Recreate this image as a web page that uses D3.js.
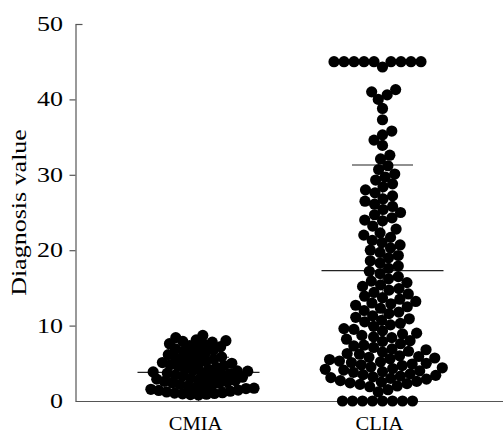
<!DOCTYPE html>
<html><head><meta charset="utf-8">
<script src="https://cdn.jsdelivr.net/npm/d3@7"></script>
<style>body{margin:0;background:#fff}</style>
</head><body>
<svg id="c" width="503" height="433"></svg>
<script>
const categories = ["CMIA", "CLIA"];
const cmiaValues = [
  0.8, 0.85, 0.9, 0.95, 1.0, 1.05, 1.1, 1.2, 1.3, 1.4, 1.45, 1.55, 1.65, 1.7, 1.8, 1.9, 2.0,
  2.1, 2.2, 2.35, 2.45,
  2.55, 2.6, 2.7, 2.8, 2.9, 2.95, 3.05, 3.15, 3.25, 3.35, 3.45, 3.5, 3.6, 3.7, 3.8, 3.85, 3.95, 4.0,
  4.1, 4.2, 4.35, 4.45, 4.6, 4.7, 4.8, 4.9, 5.0, 5.1, 5.2, 5.3, 5.4,
  5.55, 5.7, 5.85, 6.0, 6.15, 6.3, 6.45, 6.6, 6.75, 6.9, 7.05, 7.2, 7.35,
  7.5, 7.6, 7.8, 7.9, 8.0, 8.1, 8.4, 8.7
];
const cliaValues = [
  0, 0, 0, 0, 0, 0, 0, 0, 1.2, 1.5,
  1.9, 2.0, 2.2, 2.3, 2.4, 2.5, 2.6, 2.7, 2.9, 3.0, 3.1, 3.2, 3.3, 3.4, 3.5, 3.6, 3.8, 3.9,
  4.0, 4.1, 4.2, 4.3, 4.4, 4.5, 4.7, 4.8, 4.9, 5.0, 5.1, 5.2, 5.3, 5.5, 5.6, 5.7, 5.8, 5.9,
  6.0, 6.2, 6.3, 6.5, 6.6, 6.8, 6.9,
  7.1, 7.3, 7.4, 7.6, 7.9, 8.0, 8.2, 8.4, 8.5, 8.7, 8.9, 9.0, 9.3, 9.5, 9.6, 9.9, 10.1,
  10.3, 10.5, 10.7, 10.9,
  11.1, 11.3, 11.6, 11.8, 12.0, 12.3, 12.5, 12.7, 12.9, 13.0, 13.2, 13.5, 13.7, 13.9, 14.2,
  14.4, 14.7, 14.9, 15.2, 15.4, 15.7, 15.9,
  16.2, 16.5, 16.9, 17.2, 17.6, 17.9, 18.3, 18.6, 19.0, 19.3, 19.7, 20.0, 20.3, 20.7, 21.0,
  21.3, 21.7, 22.0, 22.3,
  22.8, 23.2, 23.9, 24.0, 24.3, 24.7, 25.0, 25.4, 25.8, 26.1, 26.5, 26.8, 27.2, 27.6, 28.0,
  28.4, 28.8, 29.3, 29.7, 30.1,
  30.7, 31.2, 32.1, 32.6, 33.9, 34.6, 35.3, 35.8, 37.3, 38.8, 40.0, 40.6, 41.0, 41.3,
  44.3, 45, 45, 45, 45, 45, 45, 45, 45, 45
];
const seriesValues = [cmiaValues, cliaValues];
const means = [3.8, 17.3];
const sds = [2.0, 14.0];
const yTicks = [0, 10, 20, 30, 40, 50];
const yLabel = "Diagnosis value";

const svg = d3.select("#c");
const FONT = "'Liberation Serif', 'Times New Roman', serif";
const y = d3.scaleLinear().domain([0, 50]).range([401, 24]);
const x = d3.scalePoint().domain(categories).range([198.5, 382.5]);
const R = 5.6;
const spacing = [8, 10];

function swarm(values, d) {
  const pts = values.map(v => ({ v, py: y(v) })).sort((a, b) => a.v - b.v);
  const placed = [];
  for (const p of pts) {
    const near = placed.filter(q => Math.abs(q.py - p.py) < d);
    const cands = [0];
    for (const q of near) {
      const dx = Math.sqrt(d * d - (q.py - p.py) ** 2);
      cands.push(q.dx + dx, q.dx - dx);
    }
    cands.sort((a, b) => Math.abs(a) - Math.abs(b) || a - b);
    for (const c of cands) {
      if (near.every(q => (q.dx - c) ** 2 + (q.py - p.py) ** 2 >= d * d - 1e-6)) { p.dx = c; break; }
    }
    placed.push(p);
  }
  return placed;
}

// axes
const axisColor = "#555";
svg.append("line").attr("x1", 75.5).attr("x2", 503).attr("y1", y(0) + 0.5).attr("y2", y(0) + 0.5)
  .attr("stroke", axisColor).attr("stroke-width", 1.2);
const yAxis = svg.append("g").attr("transform", "translate(75.5,0)")
  .call(d3.axisLeft(y).tickValues(yTicks).tickSize(6).tickSizeOuter(0).tickFormat(""));
yAxis.select(".domain").attr("stroke", axisColor).attr("stroke-width", 1.2);
yAxis.selectAll(".tick line").attr("stroke", axisColor).attr("stroke-width", 1.2)
  .attr("x2", d => d === 50 ? 7 : (d === 0 ? 0 : -6));

// tick labels
svg.append("g").selectAll("g").data(yTicks).join("g")
  .attr("transform", d => `translate(63,${y(d)}) scale(1.3,1)`)
  .append("text").attr("text-anchor", "end").attr("dy", "0.35em")
  .attr("font-family", FONT).attr("font-size", 20).attr("fill", "#000").text(d => d);

// y label
svg.append("g").attr("transform", "translate(26,212.5) rotate(-90) scale(1.3,1)")
  .append("text").attr("text-anchor", "middle")
  .attr("font-family", FONT).attr("font-size", 20).attr("fill", "#000").text(yLabel);

// x labels
svg.append("g").selectAll("g").data(categories).join("g")
  .attr("transform", d => `translate(${x(d) - 3},429.5) scale(1.08,1)`)
  .append("text").attr("text-anchor", "middle")
  .attr("font-family", FONT).attr("font-size", 19).attr("fill", "#000").text(d => d);

// error bars (under dots)
const eb = svg.append("g").attr("stroke", "#222").attr("stroke-width", 1.2);
categories.forEach((c, i) => {
  const cx = x(c);
  const lo = Math.max(0, means[i] - sds[i]), hi = means[i] + sds[i];
  eb.append("line").attr("x1", cx).attr("x2", cx).attr("y1", y(lo)).attr("y2", y(hi)).attr("stroke", "#666");
  eb.append("line").attr("x1", cx - 61).attr("x2", cx + 61).attr("y1", y(means[i])).attr("y2", y(means[i]));
  eb.append("line").attr("x1", cx - 30.5).attr("x2", cx + 30.5).attr("y1", y(hi)).attr("y2", y(hi));
  eb.append("line").attr("x1", cx - 30.5).attr("x2", cx + 30.5).attr("y1", y(lo)).attr("y2", y(lo));
  eb.append("line").attr("x1", cx).attr("x2", cx).attr("y1", y(0)).attr("y2", y(0) - 4).attr("stroke", "#555");
});

// dots
categories.forEach((c, i) => {
  const pts = swarm(seriesValues[i], spacing[i]);
  svg.append("g").selectAll("circle").data(pts).join("circle")
    .attr("cx", p => x(c) + p.dx).attr("cy", p => p.py).attr("r", R).attr("fill", "#000");
});
</script>
</body></html>
